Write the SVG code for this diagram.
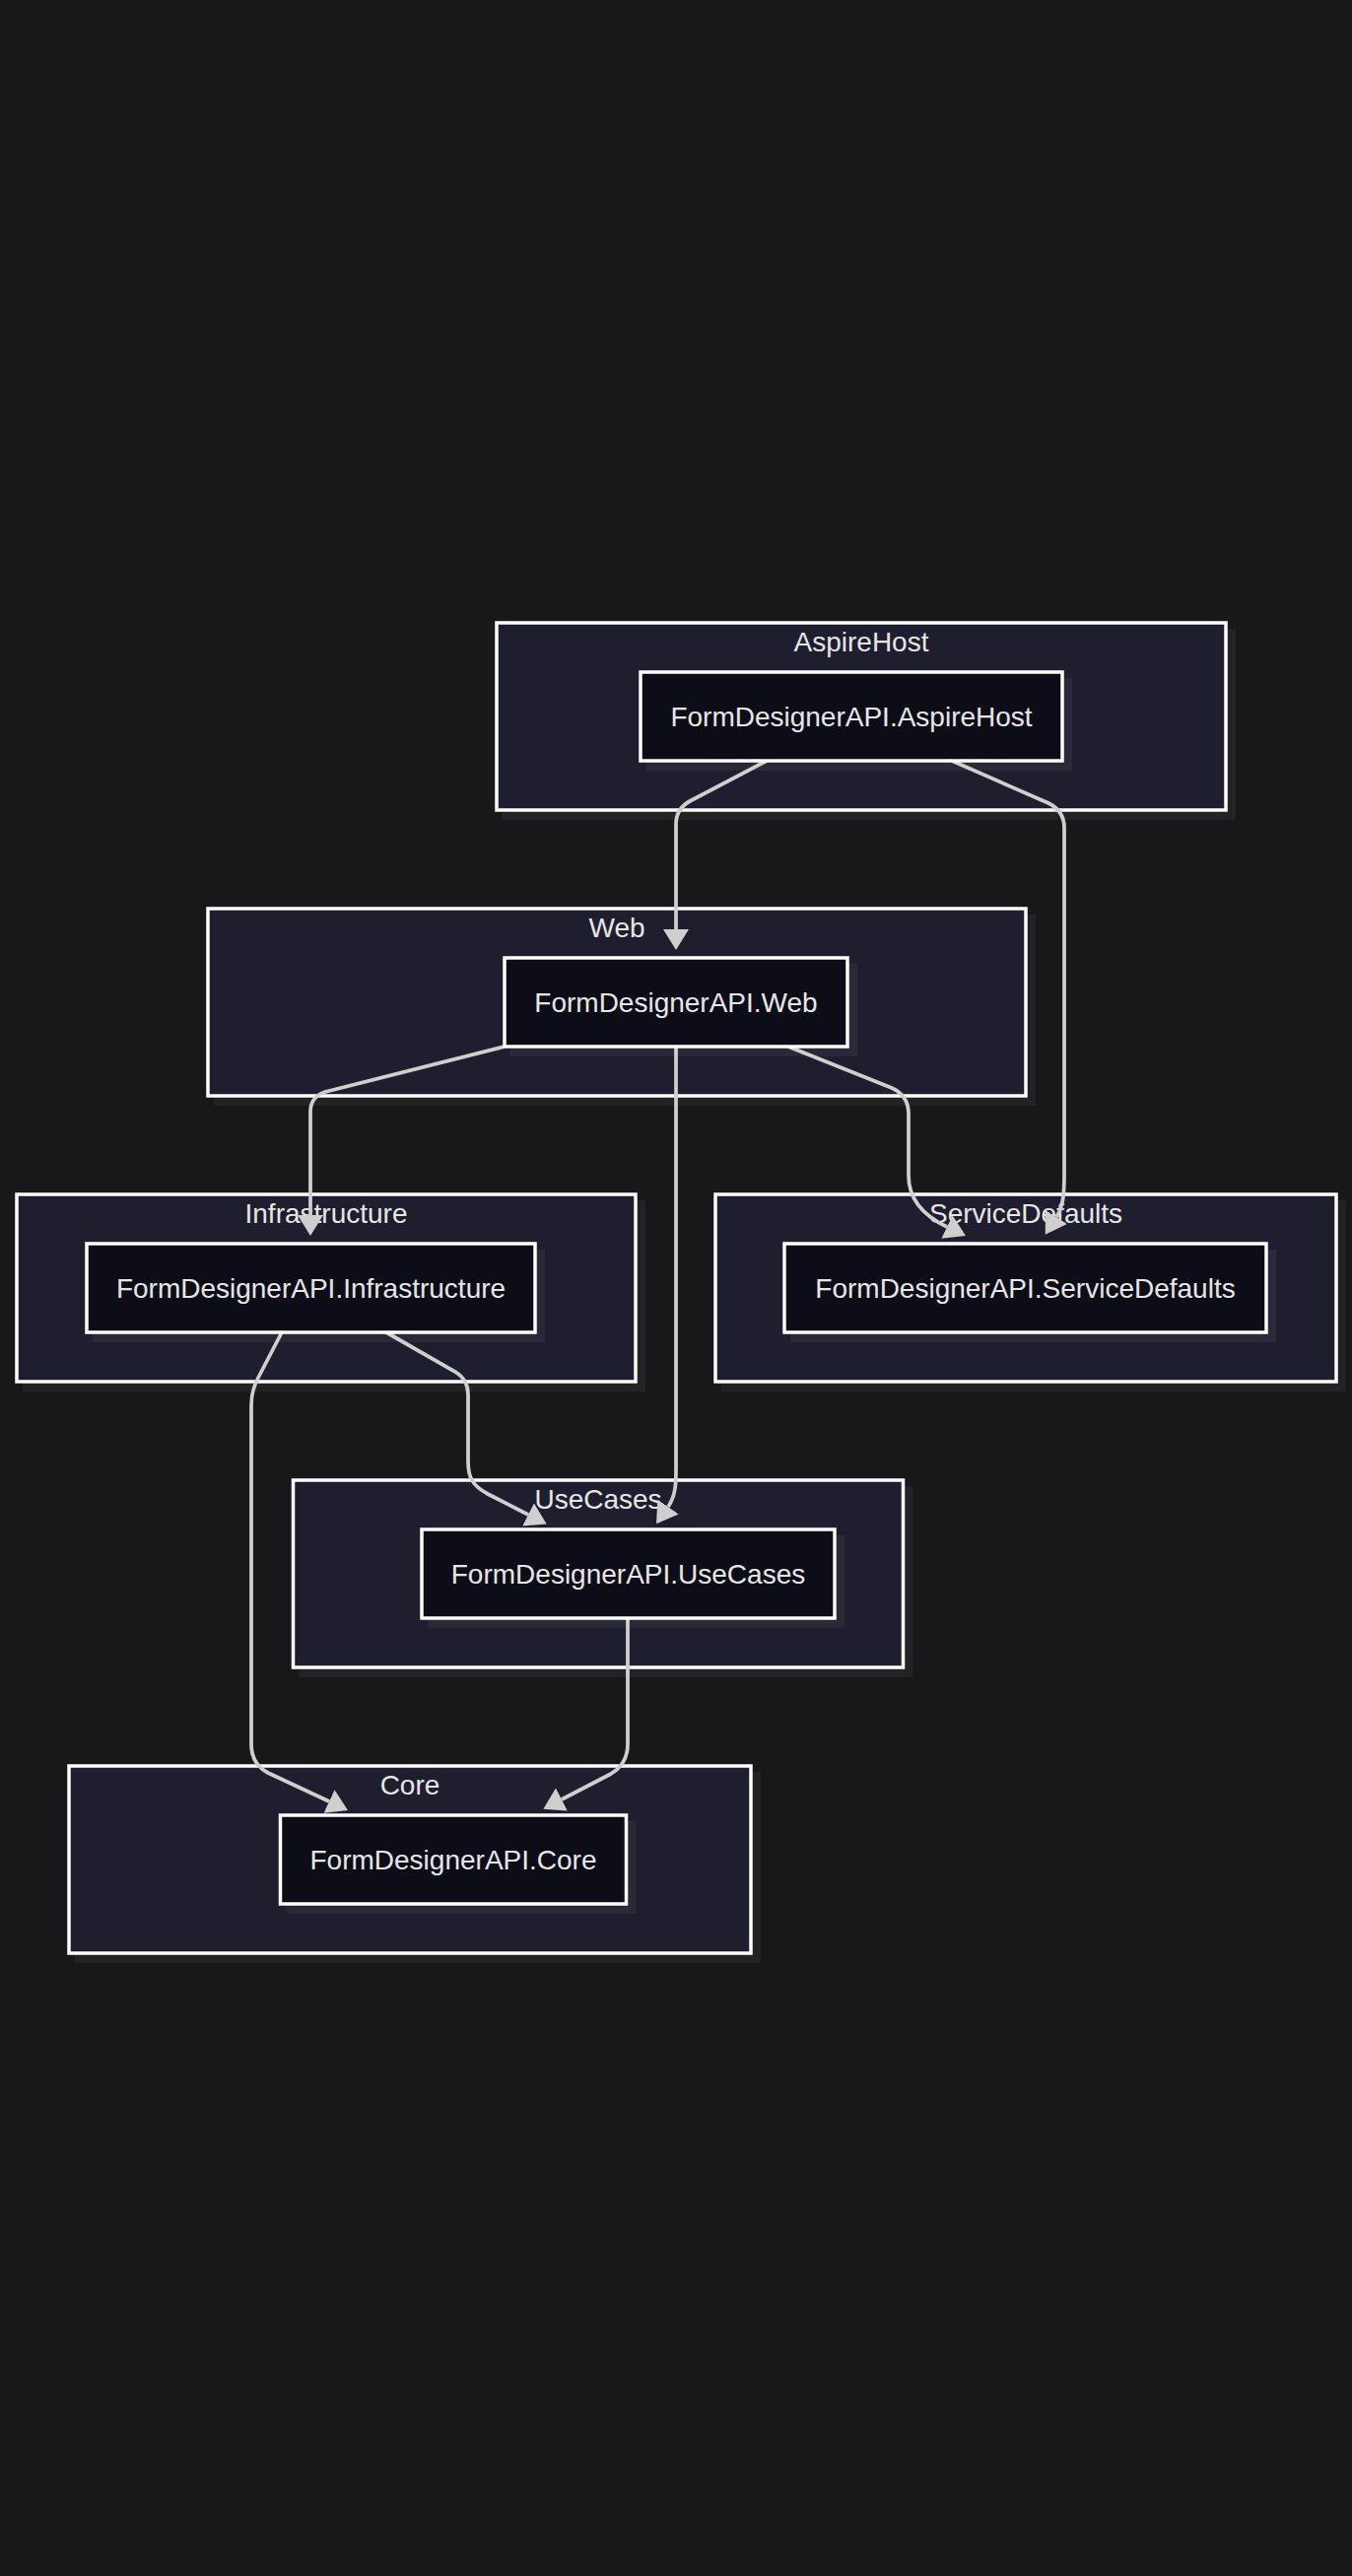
<svg xmlns="http://www.w3.org/2000/svg" width="1372" height="2614" viewBox="0 0 1372 2614">
<style>
.bg{fill:#18181b}
.shadow{fill:#ffffff;fill-opacity:0.05;stroke:none}
.cluster{fill:#1e1e2e;stroke:#ffffff;stroke-width:3.5}
.node{fill:#0d0d17;stroke:#ffffff;stroke-width:3.5}
.title,.label{font-family:"Liberation Sans",Arial,sans-serif;font-size:28px;fill:#e6e6e6;text-anchor:middle}
.edge{fill:none;stroke:#cfcfcf;stroke-width:3.75;marker-end:url(#arrow)}
</style>
<defs>
<marker id="arrow" viewBox="0 0 10 10" refX="0" refY="5" markerWidth="21" markerHeight="26" markerUnits="userSpaceOnUse" orient="auto" preserveAspectRatio="none">
<path d="M0,0 L10,5 L0,10 z" fill="#cfcfcf"/>
</marker>
</defs>
<rect class="bg" x="0" y="0" width="1372" height="2614"/>
<g id="clusters">
<g id="cluster-AspireHost">
<rect class="shadow" x="510" y="638" width="744" height="194"/>
<rect class="cluster" x="504" y="632" width="740" height="190"/>
<text class="title" x="874" y="661">AspireHost</text>
</g>
<g id="cluster-Web">
<rect class="shadow" x="217" y="928" width="834" height="194"/>
<rect class="cluster" x="211" y="922" width="830" height="190"/>
<text class="title" x="626" y="951">Web</text>
</g>
<g id="cluster-Infrastructure">
<rect class="shadow" x="23" y="1218" width="632" height="194"/>
<rect class="cluster" x="17" y="1212" width="628" height="190"/>
<text class="title" x="331" y="1241">Infrastructure</text>
</g>
<g id="cluster-ServiceDefaults">
<rect class="shadow" x="732" y="1218" width="634" height="194"/>
<rect class="cluster" x="726" y="1212" width="630" height="190"/>
<text class="title" x="1041" y="1241">ServiceDefaults</text>
</g>
<g id="cluster-UseCases">
<rect class="shadow" x="303.5" y="1508" width="623" height="194"/>
<rect class="cluster" x="297.5" y="1502" width="619" height="190"/>
<text class="title" x="607" y="1531">UseCases</text>
</g>
<g id="cluster-Core">
<rect class="shadow" x="76" y="1798" width="696" height="194"/>
<rect class="cluster" x="70" y="1792" width="692" height="190"/>
<text class="title" x="416" y="1821">Core</text>
</g>
</g>
<g id="connectors">
<path id="e-AspireHost-Web" class="edge" d="M778,772 L700,813 Q686,821 686,836 L686,943"/>
<path id="e-AspireHost-ServiceDefaults" class="edge" d="M966,772 L1064,815 Q1080,823 1080,840 L1080,1190 C1080,1212 1079,1224 1072,1235"/>
<path id="e-Web-Infrastructure" class="edge" d="M512,1062 L330,1108 Q315,1113 315,1128 L315,1233"/>
<path id="e-Web-UseCases" class="edge" d="M686,1062 L686,1480 C686,1502 687,1516 678,1529"/>
<path id="e-Web-ServiceDefaults" class="edge" d="M800,1062 L905,1104 Q922,1112 922,1130 L922,1193 C922,1217 938,1234 961,1245"/>
<path id="e-Infrastructure-UseCases" class="edge" d="M392,1352 L462,1392 Q475,1400 475,1415 L475,1483 C475,1500 480,1508 495,1516 L536,1537"/>
<path id="e-Infrastructure-Core" class="edge" d="M286,1352 L262,1398 Q255,1411 255,1426 L255,1770 Q255,1790 272,1799 L334,1828"/>
<path id="e-UseCases-Core" class="edge" d="M637,1642 L637,1770 Q637,1790 620,1800 L570,1826"/>
</g>
<g id="nodes">
<g id="node-AspireHost">
<rect class="shadow" x="656" y="688" width="432" height="94"/>
<rect class="node" x="650" y="682" width="428" height="90"/>
<text class="label" x="864" y="737">FormDesignerAPI.AspireHost</text>
</g>
<g id="node-Web">
<rect class="shadow" x="518" y="978" width="352" height="94"/>
<rect class="node" x="512" y="972" width="348" height="90"/>
<text class="label" x="686" y="1027">FormDesignerAPI.Web</text>
</g>
<g id="node-Infrastructure">
<rect class="shadow" x="94" y="1268" width="459" height="94"/>
<rect class="node" x="88" y="1262" width="455" height="90"/>
<text class="label" x="315.5" y="1317">FormDesignerAPI.Infrastructure</text>
</g>
<g id="node-ServiceDefaults">
<rect class="shadow" x="802" y="1268" width="493" height="94"/>
<rect class="node" x="796" y="1262" width="489" height="90"/>
<text class="label" x="1040.5" y="1317">FormDesignerAPI.ServiceDefaults</text>
</g>
<g id="node-UseCases">
<rect class="shadow" x="434" y="1558" width="423" height="94"/>
<rect class="node" x="428" y="1552" width="419" height="90"/>
<text class="label" x="637.5" y="1607">FormDesignerAPI.UseCases</text>
</g>
<g id="node-Core">
<rect class="shadow" x="290.5" y="1848" width="355" height="94"/>
<rect class="node" x="284.5" y="1842" width="351" height="90"/>
<text class="label" x="460" y="1897">FormDesignerAPI.Core</text>
</g>
</g>
</svg>
